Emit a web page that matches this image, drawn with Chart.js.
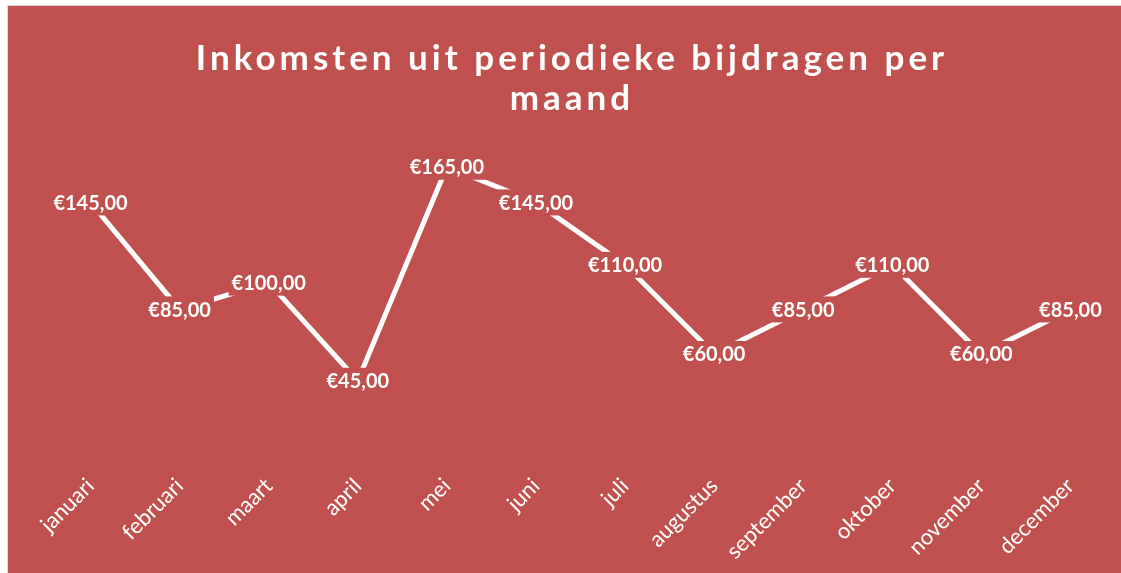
<!DOCTYPE html>
<html>
<head>
<meta charset="utf-8">
<script src="https://cdn.jsdelivr.net/npm/chart.js@4/dist/chart.umd.min.js"></script>
<style>
  html, body { margin: 0; padding: 0; background: #ffffff; overflow: hidden; }
  #wrap {
    position: absolute; left: 7px; top: 5px;
    width: 1200px; height: 620px;
    border-left: 1px solid #d9d9d9; border-top: 1px solid #d9d9d9;
    background: #c0504d;
  }
  canvas { display: block; }
</style>
</head>
<body>
<div id="wrap"><canvas id="chart" width="1113" height="567"></canvas></div>
<script>
const months = ["januari", "februari", "maart", "april", "mei", "juni", "juli",
  "augustus", "september", "oktober", "november", "december"];
const income = [145, 85, 100, 45, 165, 145, 110, 60, 85, 110, 60, 85];
const titleLines = ["Inkomsten uit periodieke bijdragen per", "maand"];

const bg = "#c0504d";

const euro = (v) => "€" + v.toFixed(2).replace(".", ",");

// title with wide letter spacing, like the spreadsheet original
const spacedTitle = {
  id: "spacedTitle",
  afterDraw(chart) {
    const ctx = chart.ctx;
    ctx.save();
    ctx.fillStyle = "#ffffff";
    ctx.font = "bold 35px Lato";
    ctx.letterSpacing = "4px";
    ctx.textAlign = "center";
    ctx.textBaseline = "alphabetic";
    titleLines.forEach((line, i) => {
      ctx.fillText(line, 564, 64 + i * 40);
    });
    ctx.restore();
  }
};

// value labels sitting on the line, with a box that hides the line behind them
const valueLabels = {
  id: "valueLabels",
  afterDatasetsDraw(chart) {
    const ctx = chart.ctx;
    const meta = chart.getDatasetMeta(0);
    ctx.save();
    ctx.font = "bold 20px Lato";
    ctx.textAlign = "center";
    ctx.textBaseline = "middle";
    meta.data.forEach((pt, i) => {
      const txt = euro(income[i]);
      const w = ctx.measureText(txt).width;
      ctx.fillStyle = bg;
      ctx.fillRect(pt.x - w / 2 - 3, pt.y - 13, w + 6, 26);
      ctx.fillStyle = "#ffffff";
      ctx.fillText(txt, pt.x, pt.y + 1);
    });
    ctx.restore();
  }
};

new Chart(document.getElementById("chart"), {
  type: "line",
  data: {
    labels: months,
    datasets: [{
      data: income,
      borderColor: "#ffffff",
      borderWidth: 5,
      pointRadius: 0,
      tension: 0,
      fill: false
    }]
  },
  options: {
    responsive: false,
    animation: false,
    layout: { padding: { left: 38, right: 6, top: 134, bottom: 0 } },
    plugins: {
      legend: { display: false },
      title: { display: false },
      tooltip: { enabled: false }
    },
    scales: {
      x: {
        offset: true,
        grid: { display: false, drawTicks: false },
        border: { display: false },
        ticks: {
          color: "#ffffff",
          font: { family: "Lato", size: 22 },
          minRotation: 45,
          maxRotation: 45,
          padding: 12
        },
        afterFit(scale) { scale.height = 112; }
      },
      y: {
        display: false,
        min: 0,
        max: 180
      }
    }
  },
  plugins: [spacedTitle, valueLabels]
});
</script>
</body>
</html>
